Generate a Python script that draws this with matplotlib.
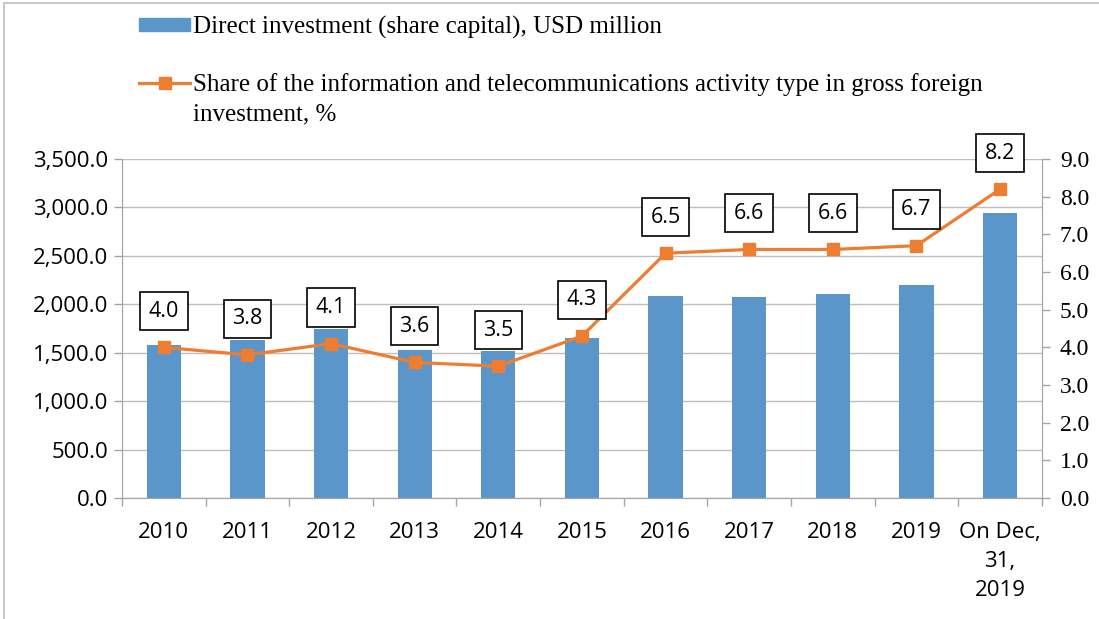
import matplotlib.pyplot as plt
import matplotlib.patches as patches
from matplotlib.lines import Line2D
import numpy as np

categories = ["2010", "2011", "2012", "2013", "2014", "2015", "2016", "2017",
              "2018", "2019", "On Dec,\n31,\n2019"]
investment = [1580, 1630, 1750, 1530, 1520, 1650, 2085, 2075, 2105, 2200, 2940]
share = [4.0, 3.8, 4.1, 3.6, 3.5, 4.3, 6.5, 6.6, 6.6, 6.7, 8.2]

bar_label = "Direct investment (share capital), USD million"
line_label = "Share of the information and telecommunications activity type in gross foreign"
line_label_2 = "investment, %"

blue = "#5B96CB"
orange = "#ED7D31"
grey = "#A6A6A6"
sans = "Open Sans"
serif = "Liberation Serif"

fig = plt.figure(figsize=(10.99, 6.19), dpi=100)
ax = fig.add_axes([0.111, 0.1955, 0.837, 0.5475])
ax2 = ax.twinx()

x = np.arange(len(categories))
ax.bar(x, investment, width=0.41, color=blue, zorder=2)
ax2.plot(x, share, color=orange, lw=2.3, marker="s", markersize=9, zorder=3)

for xi, v in zip(x, share):
    ax2.annotate(f"{v:.1f}", (xi, v), xytext=(0, 26), textcoords="offset points",
                 ha="center", va="center", fontsize=15.5, family=sans,
                 bbox=dict(boxstyle="square,pad=0.4", fc="white", ec="black", lw=1.2),
                 zorder=4)

ax.set_xlim(-0.5, len(categories) - 0.5)
ax.set_ylim(0, 3500)
ax2.set_ylim(0, 9)
ax.set_yticks(np.arange(0, 3501, 500))
ax.set_yticklabels([f"{v:,.1f}" for v in np.arange(0, 3501, 500)], family=sans, fontsize=16)
ax2.set_yticks(np.arange(0, 9.1, 1))
ax2.set_yticklabels([f"{v:.1f}" for v in np.arange(0, 9.1, 1)], family=serif, fontsize=17)

ax.set_xticks(x)
ax.set_xticklabels(categories, family=sans, fontsize=16, linespacing=1.5)
ax.set_xticks(np.arange(-0.5, len(categories), 1), minor=True)
ax.tick_params(axis="x", which="major", length=0, pad=17)
ax.tick_params(axis="x", which="minor", length=6, color=grey, width=1)
ax.tick_params(axis="y", length=6, color=grey, width=1, pad=4)
ax2.tick_params(axis="y", length=6, color=grey, width=1, pad=7)

ax.grid(axis="y", color="#BFBFBF", lw=1, zorder=0)
ax.set_axisbelow(True)
for a in (ax, ax2):
    a.spines["top"].set_visible(False)
    for s in ("left", "right", "bottom"):
        a.spines[s].set_color(grey)
ax.set_zorder(ax2.get_zorder() - 1)
ax2.patch.set_visible(False)

handles = [patches.Patch(color=blue),
           Line2D([], [], color=orange, lw=2.3, marker="s", markersize=9)]
leg = fig.legend(handles, [bar_label, line_label], loc="upper left",
                 bbox_to_anchor=(0.106, 1.011), frameon=False,
                 prop=dict(family=serif, size=18), handlelength=2.05,
                 handleheight=0.45, handletextpad=0.1, labelspacing=1.35)

# second line of the long legend label, aligned with the legend text
fig.canvas.draw()
tb = leg.get_texts()[1].get_window_extent().transformed(fig.transFigure.inverted())
fig.text(tb.x0, tb.y0 - 0.049, line_label_2, family=serif, fontsize=18,
         ha="left", va="bottom")

fig.add_artist(patches.Rectangle((0.004, -0.1), 1.2, 1.095, transform=fig.transFigure,
                                 fill=False, ec="#BFBFBF", lw=1.2))

fig.savefig("out.png", dpi=100)
